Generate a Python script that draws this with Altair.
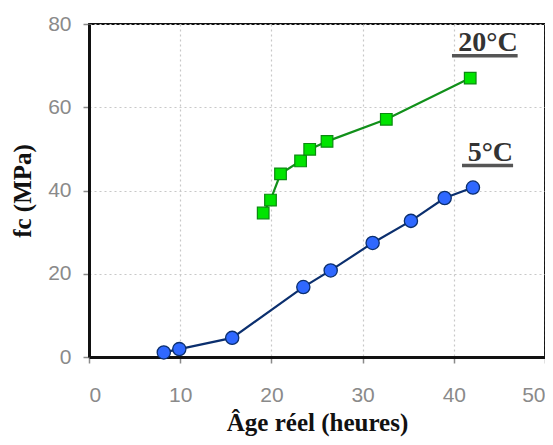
import altair as alt
import pandas as pd

# 5°C series
age_5 = [8.2, 9.9, 15.7, 23.5, 26.5, 31.1, 35.3, 39.0, 42.1]
fc_5 = [1.1, 1.9, 4.6, 16.8, 20.8, 27.4, 32.7, 38.2, 40.7]
# 20°C series
age_20 = [19.1, 19.9, 21.0, 23.2, 24.2, 26.1, 32.6, 41.8]
fc_20 = [34.6, 37.7, 44.0, 47.1, 49.9, 51.8, 57.1, 67.0]

# annotation labels
lab_text = ["20°C", "5°C"]
lab_x = [47.0, 46.5]
lab_y = [73.5, 47.1]
ul_x1 = [39.8, 40.9]
ul_x2 = [47.0, 46.5]
ul_y = [72.4, 46.0]

df5 = pd.DataFrame({"age": age_5, "fc": fc_5})
df20 = pd.DataFrame({"age": age_20, "fc": fc_20})
dlab = pd.DataFrame({"t": lab_text, "x": lab_x, "y": lab_y,
                     "x1": ul_x1, "x2": ul_x2, "yu": ul_y})

xs = alt.Scale(domain=[0, 50], nice=False)
ys = alt.Scale(domain=[0, 80], nice=False)

xax = alt.Axis(values=[0, 10, 20, 30, 40, 50], title="Âge réel (heures)",
               labelFont="Liberation Sans", labelFontSize=21, labelColor="#8a8a8a",
               labelPadding=21, tickSize=6, tickColor="#8a8a8a", tickWidth=1.5,
               domainColor="#111111", domainWidth=3,
               titleFont="Liberation Serif", titleFontSize=25, titleFontWeight="bold",
               titleColor="#111111", titlePadding=5,
               grid=True, gridDash=[2, 3], gridColor="#c8c8c8", gridWidth=1.2)
yax = alt.Axis(values=[0, 20, 40, 60, 80], title="fc (MPa)",
               labelFont="Liberation Sans", labelFontSize=21, labelColor="#8a8a8a",
               labelPadding=12, tickSize=6, tickColor="#8a8a8a", tickWidth=1.5,
               domainColor="#111111", domainWidth=3,
               titleFont="Liberation Serif", titleFontSize=25, titleFontWeight="bold",
               titleColor="#111111", titlePadding=12,
               grid=True, gridDash=[2, 3], gridColor="#c8c8c8", gridWidth=1.2)

line20 = alt.Chart(df20).mark_line(color="#11901a", strokeWidth=2.2).encode(
    x=alt.X("age:Q", scale=xs, axis=xax), y=alt.Y("fc:Q", scale=ys, axis=yax))
pts20 = alt.Chart(df20).mark_point(shape="square", filled=True, size=135,
                                   fill="#00e400", stroke="#0b8a10", strokeWidth=1.2,
                                   opacity=1).encode(x="age:Q", y="fc:Q")
line5 = alt.Chart(df5).mark_line(color="#0b2f6e", strokeWidth=2.2).encode(
    x="age:Q", y="fc:Q")
pts5 = alt.Chart(df5).mark_point(shape="circle", filled=True, size=175,
                                 fill="#2f68ff", stroke="#0b2f6e", strokeWidth=1.3,
                                 opacity=1).encode(x="age:Q", y="fc:Q")
labels = alt.Chart(dlab).mark_text(font="Liberation Serif", fontSize=28,
                                   fontWeight="bold", color="#333333",
                                   align="right", baseline="alphabetic").encode(
    x="x:Q", y="y:Q", text="t:N")
unders = alt.Chart(dlab).mark_rule(color="#555555", strokeWidth=3.5).encode(
    x="x1:Q", x2="x2:Q", y="yu:Q")

chart = alt.layer(line20, line5, pts20, pts5, labels, unders).properties(
    width=456, height=333,
    autosize=alt.AutoSizeParams(type="none"),
    padding={"left": 81, "top": 16, "right": 0, "bottom": 80},
).configure_view(stroke="#111111", strokeWidth=2)

chart.save("out.html", embed_options={"renderer": "svg", "actions": False})
